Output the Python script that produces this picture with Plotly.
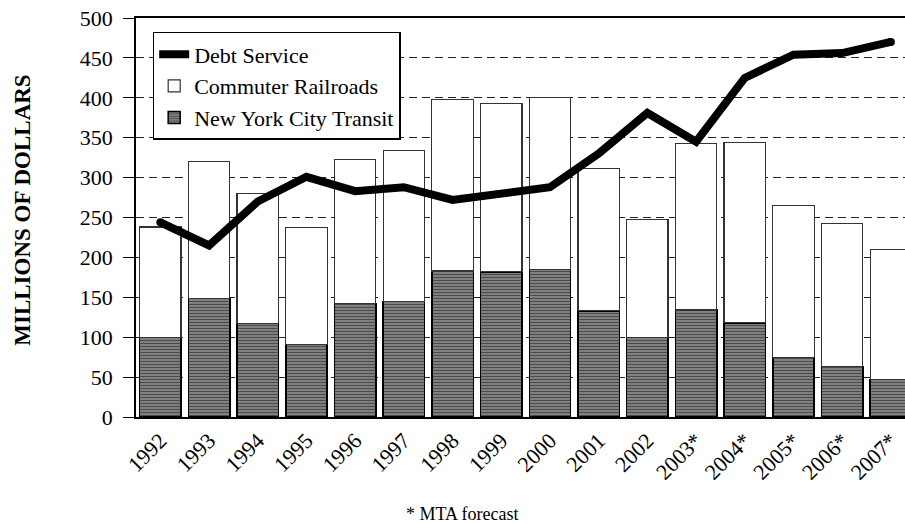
import plotly.graph_objects as go

years = ["1992", "1993", "1994", "1995", "1996", "1997", "1998", "1999",
         "2000", "2001", "2002", "2003*", "2004*", "2005*", "2006*", "2007*"]
nyct = [100, 149, 117, 91, 142, 145, 183, 182, 185, 133, 100, 134, 118, 75, 63, 47]
total = [238, 320, 280, 237, 323, 334, 398, 393, 400, 311, 248, 343, 344, 265, 242, 210]
commuter = [t - n for t, n in zip(total, nyct)]
debt_service = [244, 215, 270, 301, 283, 288, 272, 280, 288, 330, 381, 345, 425, 454, 456, 470]

SERIF = "Liberation Serif"

fig = go.Figure()

fig.add_trace(go.Bar(
    x=years, y=nyct, name="New York City Transit",
    legendgroup="c", legendrank=3,
    marker=dict(
        color="#9a9a9a",
        line=dict(color="#000000", width=1.5),
        pattern=dict(shape="-", fgcolor="#4a4a4a", bgcolor="#9a9a9a",
                     size=3, solidity=0.55, fillmode="replace"),
    ),
))
fig.add_trace(go.Bar(
    x=years, y=commuter, name="Commuter Railroads",
    legendgroup="b", legendrank=2,
    marker=dict(color="#ffffff", line=dict(color="#333333", width=1.2)),
))
fig.add_trace(go.Scatter(
    x=years, y=debt_service, name="Debt Service",
    legendgroup="a", legendrank=1,
    mode="lines", line=dict(color="#000000", width=8),
))
# round dots at the two ends of the debt line stand in for round line caps
fig.add_trace(go.Scatter(
    x=[years[0], years[-1]], y=[debt_service[0], debt_service[-1]],
    mode="markers", showlegend=False, hoverinfo="skip",
    marker=dict(size=8, color="#000000", line=dict(width=0)),
))

fig.update_layout(
    width=905, height=523,
    margin=dict(l=136, r=0, t=18, b=106),
    paper_bgcolor="#ffffff", plot_bgcolor="#ffffff",
    barmode="stack", bargap=0.15,
    font=dict(family=SERIF, size=22, color="#000000"),
    showlegend=True,
    legend=dict(
        x=0.0217, y=0.965, xanchor="left", yanchor="top",
        bgcolor="#ffffff", bordercolor="#000000", borderwidth=1.5,
        font=dict(family=SERIF, size=22, color="#000000"),
        tracegroupgap=0, itemwidth=30,
    ),
    xaxis=dict(
        type="category", range=[-0.5, 15.29],
        showline=True, linecolor="#000000", linewidth=2, mirror=True,
        ticks="", tickangle=-45,
        tickfont=dict(family=SERIF, size=22, color="#000000"),
        showgrid=False, fixedrange=True,
    ),
    yaxis=dict(
        range=[0, 500], dtick=50, tick0=0,
        showline=True, linecolor="#000000", linewidth=1.5,
        ticks="outside", ticklen=11, tickwidth=1, tickcolor="#000000",
        ticklabelstandoff=6,
        tickfont=dict(family=SERIF, size=22, color="#000000"),
        showgrid=True, gridcolor="#222222", gridwidth=1, griddash="8px,5px",
        zeroline=False, fixedrange=True,
    ),
    annotations=[
        dict(text="<b>MILLIONS OF DOLLARS</b>", textangle=-90,
             xref="paper", yref="paper", x=(23 - 136) / 769, y=0.517,
             xanchor="center", yanchor="middle", showarrow=False,
             font=dict(family=SERIF, size=23, color="#000000")),
        dict(text="* MTA forecast",
             xref="paper", yref="paper", x=(462 - 136) / 769,
             y=-(514 - 417.3) / 399, xanchor="center", yanchor="middle",
             showarrow=False,
             font=dict(family=SERIF, size=18, color="#000000")),
    ],
)

fig.write_html("out.html")
